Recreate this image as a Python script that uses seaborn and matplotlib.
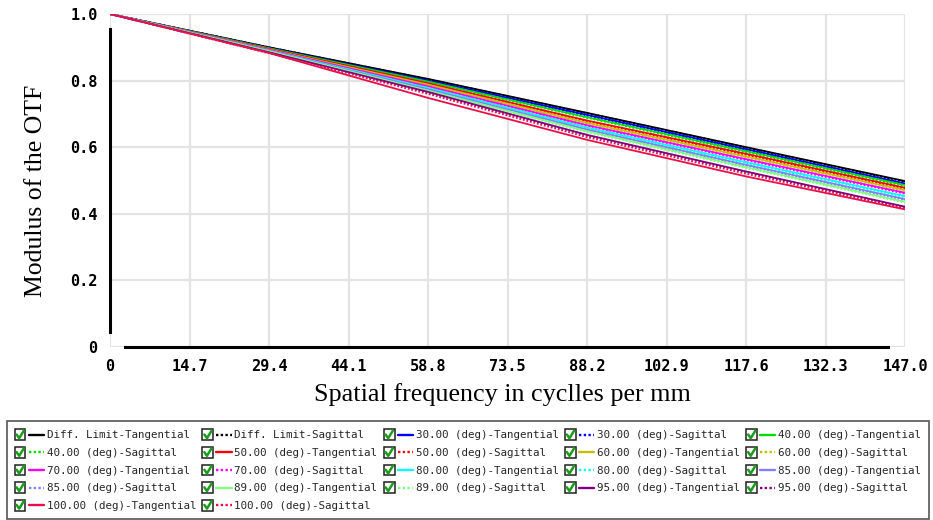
import matplotlib
matplotlib.use('Agg')
import matplotlib.pyplot as plt
import seaborn as sns
from matplotlib.lines import Line2D
from matplotlib.patches import Rectangle
from matplotlib.legend_handler import HandlerBase

# MTF data
freq = [0, 29.4, 58.8, 88.2, 117.6, 147.0]

field_names = ['Diff. Limit', '30.00 (deg)', '40.00 (deg)', '50.00 (deg)', '60.00 (deg)',
               '70.00 (deg)', '80.00 (deg)', '85.00 (deg)', '89.00 (deg)', '95.00 (deg)',
               '100.00 (deg)']
field_colors = ['#000000', '#0000ff', '#00dd00', '#ff0000', '#c0c000',
                '#ff00ff', '#00ffff', '#8080ff', '#80ff80', '#800080',
                '#e8104a']

tangential = [
    [1.0, 0.900, 0.805, 0.703, 0.600, 0.498],
    [1.0, 0.898, 0.800, 0.697, 0.594, 0.491],
    [1.0, 0.897, 0.797, 0.690, 0.588, 0.486],
    [1.0, 0.895, 0.792, 0.680, 0.580, 0.478],
    [1.0, 0.893, 0.788, 0.673, 0.572, 0.471],
    [1.0, 0.892, 0.783, 0.666, 0.564, 0.463],
    [1.0, 0.890, 0.778, 0.659, 0.555, 0.453],
    [1.0, 0.889, 0.774, 0.653, 0.547, 0.444],
    [1.0, 0.888, 0.770, 0.648, 0.540, 0.436],
    [1.0, 0.885, 0.766, 0.637, 0.527, 0.421],
    [1.0, 0.883, 0.748, 0.622, 0.512, 0.413],
]
sagittal = [
    [1.0, 0.900, 0.804, 0.702, 0.599, 0.496],
    [1.0, 0.898, 0.799, 0.695, 0.592, 0.489],
    [1.0, 0.896, 0.795, 0.688, 0.585, 0.483],
    [1.0, 0.894, 0.790, 0.678, 0.577, 0.475],
    [1.0, 0.893, 0.786, 0.671, 0.570, 0.469],
    [1.0, 0.891, 0.781, 0.664, 0.561, 0.460],
    [1.0, 0.889, 0.776, 0.656, 0.552, 0.450],
    [1.0, 0.888, 0.772, 0.650, 0.544, 0.441],
    [1.0, 0.887, 0.768, 0.645, 0.537, 0.433],
    [1.0, 0.884, 0.764, 0.635, 0.525, 0.419],
    [1.0, 0.882, 0.760, 0.630, 0.520, 0.416],
]

x_ticks = [0, 14.7, 29.4, 44.1, 58.8, 73.5, 88.2, 102.9, 117.6, 132.3, 147.0]
x_tick_labels = ['0', '14.7', '29.4', '44.1', '58.8', '73.5', '88.2', '102.9', '117.6', '132.3', '147.0']
y_ticks = [0, 0.2, 0.4, 0.6, 0.8, 1.0]
y_tick_labels = ['0', '0.2', '0.4', '0.6', '0.8', '1.0']

DOTTED = (0, (1, 1))


class CheckedLine(HandlerBase):
    """legend handle: green check box followed by the line sample"""
    def create_artists(self, legend, orig_handle, xdescent, ydescent, width, height, fontsize, trans):
        x0, y0 = -xdescent, -ydescent
        s = 1.0 * fontsize
        yb = y0 + (height - s) / 2
        box = Rectangle((x0, yb), s, s, facecolor='white', edgecolor='#1f1f1f', lw=1.1, transform=trans)
        tick = Line2D([x0 + 0.18 * s, x0 + 0.42 * s, x0 + 0.85 * s],
                      [yb + 0.52 * s, yb + 0.18 * s, yb + 0.88 * s],
                      color='#1a9e1a', lw=1.8, transform=trans)
        ls = '-' if orig_handle.get_linestyle() == '-' else DOTTED
        ln = Line2D([x0 + s + 0.3 * fontsize, x0 + width], [y0 + height / 2] * 2,
                    color=orig_handle.get_color(), linestyle=ls, lw=1.7, transform=trans)
        return [box, tick, ln]


sns.set_theme(style='white')

fig, ax = plt.subplots(figsize=(9.33, 5.2), dpi=100)
fig.subplots_adjust(left=0.118, right=0.970, top=0.973, bottom=0.333)

handles, labels = [], []
for name, color, t_vals, s_vals in zip(field_names, field_colors, tangential, sagittal):
    for kind, vals, ls in (('Tangential', t_vals, '-'), ('Sagittal', s_vals, DOTTED)):
        sns.lineplot(x=freq, y=vals, color=color, linestyle=ls, lw=1.3, ax=ax)
        handles.append(Line2D([], [], color=color, linestyle=ls))
        labels.append(f'{name}-{kind}')

ax.set_xlim(0, 147)
ax.set_ylim(0, 1)
ax.set_xticks(x_ticks)
ax.set_xticklabels(x_tick_labels)
ax.set_yticks(y_ticks)
ax.set_yticklabels(y_tick_labels)
for lab in ax.get_xticklabels() + ax.get_yticklabels():
    lab.set_family('DejaVu Sans Mono')
    lab.set_fontsize(11)
    lab.set_weight('bold')
    lab.set_color('black')
ax.tick_params(length=0, pad=9)

ax.grid(True, color='#e3e3e3', lw=1.6)
ax.set_axisbelow(True)
for side in ('top', 'right'):
    ax.spines[side].set_visible(False)
for side in ('left', 'bottom'):
    ax.spines[side].set_color('black')
    ax.spines[side].set_linewidth(2.2)
ax.spines['left'].set_bounds(0.045, 0.955)
ax.spines['bottom'].set_bounds(2.8, 143.9)

ax.set_xlabel('Spatial frequency in cyclles per mm', family='Liberation Serif', size=18.8, color='black', va='top')
ax.xaxis.set_label_coords(0.494, -0.11)
ax.set_ylabel('Modulus of the OTF', family='Liberation Serif', size=18.5, color='black')
ax.yaxis.set_label_coords(-0.08, 0.468)

# legend is filled column by column, so reorder to read row by row like the original
ncol = 5
order = [r * ncol + c for c in range(ncol) for r in range(5) if r * ncol + c < len(labels)]
leg = fig.legend([handles[i] for i in order], [labels[i] for i in order],
                 ncol=ncol, loc='lower left', bbox_to_anchor=(0.007, 0.002, 0.989, 0.19),
                 mode='expand', handler_map={Line2D: CheckedLine()},
                 prop={'family': 'DejaVu Sans Mono', 'size': 7.8},
                 frameon=True, fancybox=False, edgecolor='#555555', framealpha=1,
                 handlelength=2.7, handleheight=1.1, handletextpad=0.25,
                 labelspacing=0.62, borderpad=0.75, borderaxespad=0, columnspacing=1.0)
leg.get_frame().set_linewidth(1.2)

fig.savefig('out.png', dpi=100)
